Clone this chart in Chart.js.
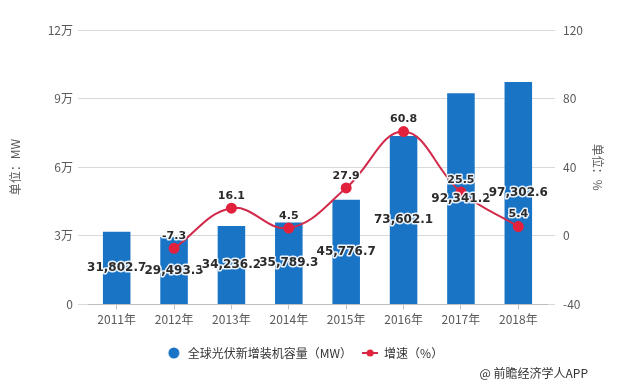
<!DOCTYPE html>
<html>
<head>
<meta charset="utf-8">
<script src="https://cdn.jsdelivr.net/npm/chart.js@4.4.0/dist/chart.umd.min.js"></script>
<style>
  html, body { margin: 0; padding: 0; background: #fff; }
  #wrap { width: 632px; height: 391px; }
</style>
</head>
<body>
<div id="wrap"><canvas id="chart" width="632" height="391"></canvas></div>
<script>
const years = ['2011年', '2012年', '2013年', '2014年', '2015年', '2016年', '2017年', '2018年'];
const capacity = [31802.7, 29493.3, 34236.2, 35789.3, 45776.7, 73602.1, 92341.2, 97302.6];
const growth = [null, -7.3, 16.1, 4.5, 27.9, 60.8, 25.5, 5.4];
const seriesNames = ['全球光伏新增装机容量（MW）', '增速（%）'];
const leftTicks = [0, 30000, 60000, 90000, 120000];
const leftTickLabels = ['0', '3万', '6万', '9万', '12万'];
const rightTicks = [-40, 0, 40, 80, 120];

const BLUE = '#1a74c6';
const RED = '#e2213d';
const LINE = '#d12a4a';
const GRID = '#d9d9d9';
const TICK = '#595959';

Chart.defaults.font.family = '"Noto Sans CJK SC", sans-serif';
Chart.defaults.font.size = 12;

// legend icons
function makeIcon(draw) {
  const c = document.createElement('canvas');
  c.width = 16; c.height = 12;
  draw(c.getContext('2d'));
  return c;
}
const circleIcon = makeIcon(ctx => {
  ctx.fillStyle = BLUE;
  ctx.beginPath(); ctx.arc(8, 6, 5.5, 0, Math.PI * 2); ctx.fill();
});
const lineIcon = makeIcon(ctx => {
  ctx.strokeStyle = LINE; ctx.lineWidth = 2;
  ctx.beginPath(); ctx.moveTo(0, 6); ctx.lineTo(16, 6); ctx.stroke();
  ctx.fillStyle = RED;
  ctx.beginPath(); ctx.arc(8, 6, 3.5, 0, Math.PI * 2); ctx.fill();
});

function drawLabel(ctx, text, x, y, font) {
  ctx.font = font;
  ctx.lineWidth = 3;
  ctx.strokeStyle = 'rgba(255,255,255,0.9)';
  ctx.strokeText(text, x, y);
  ctx.fillStyle = '#2b2b2b';
  ctx.fillText(text, x, y);
}

const valueLabels = {
  id: 'valueLabels',
  afterDatasetsDraw(chart) {
    const ctx = chart.ctx;
    ctx.save();
    ctx.textAlign = 'center';
    ctx.textBaseline = 'middle';
    ctx.lineJoin = 'round';
    chart.getDatasetMeta(0).data.forEach((bar, i) => {
      const text = capacity[i].toLocaleString('en-US', { minimumFractionDigits: 1 });
      drawLabel(ctx, text, bar.x, (bar.y + bar.base) / 2, 'bold 12px "DejaVu Sans"');
    });
    chart.getDatasetMeta(1).data.forEach((pt, i) => {
      if (growth[i] === null) return;
      drawLabel(ctx, growth[i].toFixed(1), pt.x, pt.y - 12, 'bold 11px "DejaVu Sans"');
    });
    ctx.restore();
  }
};

const sourceNote = {
  id: 'sourceNote',
  afterDraw(chart) {
    const ctx = chart.ctx;
    ctx.save();
    ctx.font = '12px "Noto Sans CJK SC"';
    ctx.fillStyle = '#333';
    ctx.textAlign = 'right';
    ctx.textBaseline = 'middle';
    ctx.fillText('@ 前瞻经济学人APP', 588, 373);
    ctx.restore();
  }
};

const ctx = document.getElementById('chart').getContext('2d');
new Chart(ctx, {
  type: 'bar',
  data: {
    labels: years,
    datasets: [
      {
        label: seriesNames[0],
        data: capacity,
        backgroundColor: BLUE,
        yAxisID: 'y',
        barPercentage: 0.48,
        categoryPercentage: 1,
        order: 1
      },
      {
        type: 'line',
        label: seriesNames[1],
        data: growth,
        yAxisID: 'y1',
        borderColor: LINE,
        borderWidth: 2,
        tension: 0.4,
        pointRadius: 4.5,
        pointBackgroundColor: RED,
        pointBorderColor: RED,
        order: 0
      }
    ]
  },
  options: {
    responsive: false,
    animation: false,
    devicePixelRatio: 1,
    layout: { padding: { top: 30, bottom: 22, left: 0, right: 23 } },
    plugins: {
      tooltip: { enabled: false },
      legend: {
        position: 'bottom',
        labels: {
          usePointStyle: true,
          pointStyleWidth: 16,
          boxHeight: 12,
          padding: 10,
          color: '#333',
          font: { size: 12 },
          generateLabels: () => [
            { text: seriesNames[0], pointStyle: circleIcon, fillStyle: BLUE, strokeStyle: BLUE, lineWidth: 0, datasetIndex: 0, hidden: false, fontColor: '#333' },
            { text: seriesNames[1], pointStyle: lineIcon, fillStyle: RED, strokeStyle: RED, lineWidth: 0, datasetIndex: 1, hidden: false, fontColor: '#333' }
          ]
        }
      }
    },
    scales: {
      x: {
        offset: true,
        grid: { offset: false, drawOnChartArea: false, drawTicks: true, tickLength: 5, color: '#bfbfbf' },
        border: { display: true, color: '#bfbfbf' },
        ticks: { color: TICK, padding: 3, font: { size: 12 } },
        afterFit: s => { s.height = 32.6; }
      },
      y: {
        position: 'left',
        min: 0,
        max: 120000,
        afterBuildTicks: s => { s.ticks = leftTicks.map(v => ({ value: v })); },
        ticks: {
          color: TICK,
          padding: 5,
          callback: v => leftTickLabels[leftTicks.indexOf(v)]
        },
        grid: { color: GRID, tickLength: 10 },
        border: { display: false },
        title: { display: true, text: '单位：MW', color: TICK, font: { size: 12 }, padding: { top: 8, bottom: 4 } },
        afterFit: s => { s.width = 88; }
      },
      y1: {
        position: 'right',
        min: -40,
        max: 120,
        afterBuildTicks: s => { s.ticks = rightTicks.map(v => ({ value: v })); },
        ticks: { color: TICK, padding: 8 },
        grid: { color: GRID, tickLength: 8, drawOnChartArea: false },
        border: { display: false },
        title: { display: true, text: '单位：%', color: TICK, font: { size: 12 } },
        afterFit: s => { s.width = 62; }
      }
    }
  },
  plugins: [valueLabels, sourceNote]
});
</script>
</body>
</html>
